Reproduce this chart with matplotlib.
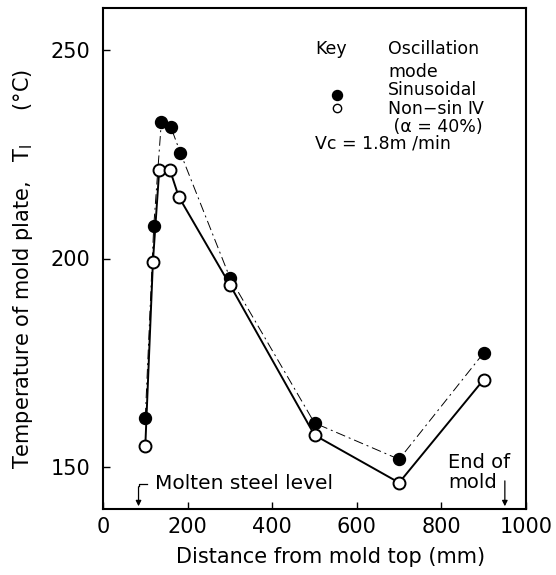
import matplotlib
matplotlib.use("Agg")
import matplotlib.pyplot as plt

# distance from mold top (mm) and mold plate temperature (deg C)
sin_x = [100, 120, 138, 160, 183, 300, 500, 700, 900]
sin_t = [161.9, 207.8, 232.8, 231.6, 225.3, 195.4, 160.6, 151.9, 177.4]
non_x = [100, 118, 133, 158, 179, 300, 500, 700, 900]
non_t = [155.1, 199.2, 221.3, 221.3, 214.8, 193.7, 157.7, 146.3, 171.0]

x_ticks = [0, 200, 400, 600, 800, 1000]
y_ticks = [150, 200, 250]
molten_level = 84
mold_end = 950

plt.rcParams['font.family'] = ['DejaVu Sans']

fig = plt.figure(figsize=(5.56, 5.75), dpi=100)
ax = fig.add_axes([103 / 556, 1 - 509 / 575, 423 / 556, 501 / 575])

ax.plot(sin_x, sin_t, color='black', lw=0.7, ls=(0, (10, 4, 2, 4)),
        marker='o', ms=8.6, mfc='black', mec='black', zorder=3)
ax.plot(non_x, non_t, color='black', lw=1.4, ls='-',
        marker='o', ms=8.6, mfc='white', mec='black', mew=1.4, zorder=4)

ax.set_xlim(0, 1000)
ax.set_ylim(140, 260)
ax.set_xticks(x_ticks)
ax.set_yticks(y_ticks)
ax.tick_params(direction='in', length=5, width=1, labelsize=15)
ax.tick_params(axis='y', pad=9)
ax.tick_params(axis='x', pad=6)
for s in ax.spines.values():
    s.set_linewidth(1.5)

ax.set_xlabel('Distance from mold top (mm)', fontsize=15)
ax.set_ylabel('Temperature of mold plate,   T$_\\mathregular{l}$     (°C)',
              fontsize=15)
ax.xaxis.set_label_coords(0.537, -0.075)
ax.yaxis.set_label_coords(-0.16, 0.48)

# key
fs = 12.5
ax.text(0.501, 0.918, 'Key', transform=ax.transAxes, fontsize=fs, va='center')
ax.text(0.674, 0.918, 'Oscillation', transform=ax.transAxes, fontsize=fs,
        va='center')
ax.text(0.674, 0.873, 'mode', transform=ax.transAxes, fontsize=fs,
        va='center')
ax.text(0.674, 0.799, 'Sinusoidal\nNon\u2212sin \u2163\n (\u03b1 = 40%)',
        transform=ax.transAxes, fontsize=fs, va='center', linespacing=1.04)
ax.text(0.501, 0.729, 'Vc = 1.8m /min', transform=ax.transAxes,
        fontsize=fs, va='center')
ax.plot([0.553], [0.827], 'o', ms=7.2, mfc='black', mec='black',
        transform=ax.transAxes)
ax.plot([0.553], [0.800], 'o', ms=6, mfc='white', mec='black', mew=1,
        transform=ax.transAxes)

# molten steel level marker
ax.annotate('', xy=(molten_level, 140), xytext=(molten_level, 146),
            arrowprops=dict(arrowstyle='-|>', color='black', lw=0.9,
                            mutation_scale=8))
ax.plot([molten_level, molten_level, molten_level + 20], [145.6, 146, 146],
        color='black', lw=0.9)
ax.text(123, 146, 'Molten steel level', fontsize=14.5, va='center')

# end of mold marker
ax.annotate('', xy=(mold_end, 140), xytext=(mold_end, 147.4),
            arrowprops=dict(arrowstyle='-|>', color='black', lw=0.9,
                            mutation_scale=8))
ax.text(815, 151.2, 'End of', fontsize=14, va='center')
ax.text(817, 146.4, 'mold', fontsize=14, va='center')

fig.savefig('out.png', dpi=100)
